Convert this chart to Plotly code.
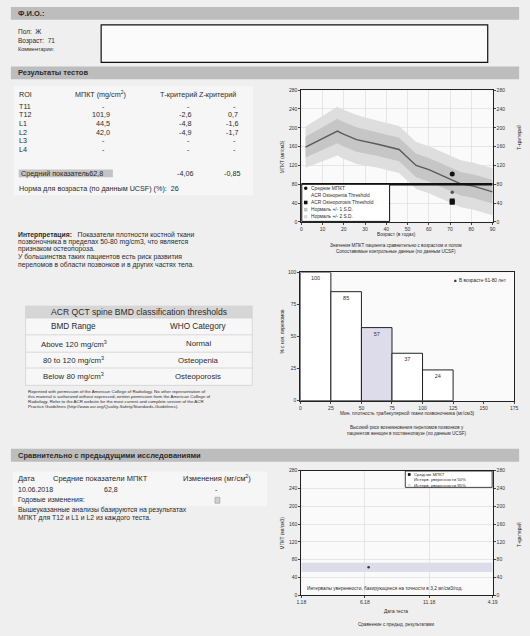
import plotly.graph_objects as go

W, H = 530, 636
FONT = "Liberation Sans"
TXT = "#2b2b2b"

# ---------------- data ----------------
roi = ["T11", "T12", "L1", "L2", "L3", "L4"]
roi_bmd = [None, 101.9, 44.5, 42.0, None, None]
roi_t = [None, -2.6, -4.8, -4.9, None, None]
roi_z = [None, 0.7, -1.6, -1.7, None, None]
mean_bmd = 62.8
mean_t = -4.06
mean_z = -0.85
age_norm_pct = 26
patient_age = 71

ref_age = [2, 17, 19, 26, 36, 41, 46, 50, 54, 60, 66, 71, 75, 81, 90]
ref_mean = [159, 193, 188, 175, 165, 159, 154, 137, 120, 111, 99, 89, 81, 76, 64]
ref_sd = [22, 26, 26, 26, 25, 25, 25, 25, 25, 25, 25, 25, 25, 25, 25]
osteoporosis_threshold = 80

hist_left = [0, 25, 50, 75, 100]
hist_pct = [100, 85, 57, 37, 24]
hist_patient_bin = 2

exam_dates = ["2018-06-10"]
exam_bmd = [62.8]
ci95_half = 10.3
trend_span = ["2018-01-01", "2019-04-01"]

acr_rows = [("Above 120 mg/cm<sup>3</sup>", "Normal"),
            ("80 to 120 mg/cm<sup>3</sup>", "Osteopenia"),
            ("Below 80 mg/cm<sup>3</sup>", "Osteoporosis")]


def fmt(v):
    return "-" if v is None else ("%.1f" % v).replace(".", ",")


def X(px):
    return px / W


def Y(py):
    return 1 - py / H


ann = []
shapes = []


def txt(x, y, s, size=7, anchor="left", color=TXT, angle=0, bold=False):
    if bold:
        s = "<b>" + s + "</b>"
    ann.append(dict(x=X(x), y=Y(y), xref="paper", yref="paper", text=s, showarrow=False,
                    xanchor=anchor, yanchor="middle", textangle=angle, borderpad=0,
                    font=dict(size=size, color=color, family=FONT)))


def rect(x0, y0, x1, y1, fill="rgba(0,0,0,0)", line=None, lw=1, layer="below"):
    shapes.append(dict(type="rect", xref="paper", yref="paper", x0=X(x0), x1=X(x1), y0=Y(y1), y1=Y(y0),
                       fillcolor=fill, line=dict(color=line or "rgba(0,0,0,0)", width=lw if line else 0),
                       layer=layer))


def hline(x0, x1, y, color, lw=1, layer="below"):
    shapes.append(dict(type="line", xref="paper", yref="paper", x0=X(x0), x1=X(x1), y0=Y(y), y1=Y(y),
                       line=dict(color=color, width=lw), layer=layer))


def marker(x, y, kind, color, size=3.5, layer="above"):
    shapes.append(dict(type="circle" if kind == "circle" else "rect", xref="paper", yref="paper",
                       x0=X(x - size / 2), x1=X(x + size / 2), y0=Y(y + size / 2), y1=Y(y - size / 2),
                       fillcolor=color, line=dict(width=0), layer=layer))


# ---------------- page header ----------------
HDR = "#bdbdbd"
rect(6, 4, 524, 17, HDR)
txt(12, 10.5, "Ф.И.О.:", 7.5, bold=True)
txt(12, 29, "Пол:  Ж", 6.5)
txt(12, 38, "Возраст:  71", 6.5)
txt(12, 46, "Комментарии:", 5.5)
rect(98, 22, 492, 60, "#fbfbfb", "#111", 1.2)
rect(6, 64, 524, 77, HDR)
txt(12, 70.5, "Результаты тестов", 7.5, bold=True)

# ---------------- results table ----------------
rect(9, 84, 253, 194, "#f6f6f6")
ty0 = 92
txt(13, ty0, "ROI", 7.2)
txt(70, ty0, "МПКТ (mg/cm<sup>2</sup>)", 7.2)
txt(157, ty0, "Т-критерий", 7.2)
txt(197, ty0, "Z-критерий", 7.2)
row_y = [104.5, 113, 121.7, 130.3, 139, 147.5]
for name, b, t, z, yy in zip(roi, roi_bmd, roi_t, roi_z, row_y):
    txt(13, yy, name, 7.2)
    if b is not None:
        txt(108, yy, fmt(b), 7.2, "right")
        txt(191, yy, fmt(t), 7.2, "right")
        txt(239, yy, fmt(z), 7.2, "right")
    else:
        txt(100, yy, "-", 7.2, "center")
        txt(187, yy, "-", 7.2, "center")
        txt(234, yy, "-", 7.2, "center")
rect(14, 168, 110, 176, "#c4c4c4")
txt(15, 172, "Средний показатель" + fmt(mean_bmd), 7.2)
txt(193, 172, ("%.2f" % mean_t).replace(".", ","), 7.2, "right")
txt(241, 172, ("%.2f" % mean_z).replace(".", ","), 7.2, "right")
txt(13, 187, "Норма для возраста (по данным UCSF) (%):  " + str(age_norm_pct), 7.2)

interp = ["<b>Интерпретация:</b>   Показатели плотности костной ткани",
          "позвоночника в пределах 50-80 mg/cm3, что является",
          "признаком остеопороза.",
          "У большинства таких пациентов есть риск развития",
          "переломов в области позвонков и в других частях тела."]
for i, line in enumerate(interp):
    txt(12, 234 + i * 7.3 + (1.0 if i >= 3 else 0), line, 6.8)

# ---------------- ACR table ----------------
rect(21, 306, 252, 386, "#f7f7f7", "#d0d0d0", 0.8)
rect(21, 306, 252, 318, "#d6d6d6")
txt(136.5, 312.3, "ACR QCT spine BMD classification thresholds", 8.6, "center")
for yy in [318, 335, 352.5, 368.5]:
    hline(21, 252, yy, "#d0d0d0", 0.8)
txt(70, 327, "BMD Range", 8.2, "center")
txt(197, 327, "WHO Category", 8.2, "center")
for i, (a, b) in enumerate(acr_rows):
    yy = [344, 360.5, 377][i]
    txt(70, yy, a, 7.8, "center")
    txt(197, yy, b, 7.8, "center")
reprint = ["Reprinted with permission of the American College of Radiology. No other representation of",
           "this material is authorized without expressed, written permission from the American College of",
           "Radiology. Refer to the ACR website for the most current and complete version of the ACR",
           "Practice Guidelines (http://www.acr.org/Quality-Safety/Standards-Guidelines)."]
for i, line in enumerate(reprint):
    txt(22, 392 + i * 5, line, 4.4)

# ---------------- comparison section ----------------
rect(6, 450, 524, 463, HDR)
txt(12, 456.5, "Сравнительно с предыдущими исследованиями", 7.5, bold=True)
rect(8, 473, 267, 508, "#f6f6f6")
txt(12, 480, "Дата", 7.5)
txt(48, 480, "Средние показатели МПКТ", 7.5)
txt(180, 480, "Изменения (мг/см<sup>2</sup>)", 7.5)
txt(12, 491.5, "10.06.2018", 7)
txt(100, 491.5, fmt(mean_bmd), 7)
txt(216, 491.5, "-", 7, "center")
txt(12, 501.5, "Годовые изменения:", 7)
rect(214, 499, 219, 505, "#cfcfcf", "#888", 0.5)
txt(12, 512, "Вышеуказанные анализы базируются на результатах", 6.8)
txt(12, 519.5, "МПКТ для Т12 и L1 и L2 из каждого теста.", 6.8)

# ---------------- chart domains ----------------
c1x, c1y = [X(302), X(497)], [Y(221), Y(88)]
c2x, c2y = [X(301), X(519)], [Y(401.5), Y(272)]
c3x, c3y = [X(302), X(497)], [Y(598), Y(472)]

fig = go.Figure()

# chart 1: reference curve
lo2 = [m - 2 * s for m, s in zip(ref_mean, ref_sd)]
hi2 = [m + 2 * s for m, s in zip(ref_mean, ref_sd)]
lo1 = [m - s for m, s in zip(ref_mean, ref_sd)]
hi1 = [m + s for m, s in zip(ref_mean, ref_sd)]
fig.add_trace(go.Scatter(x=ref_age, y=lo2, mode="lines", line=dict(width=0), xaxis="x", yaxis="y", hoverinfo="skip"))
fig.add_trace(go.Scatter(x=ref_age, y=hi2, mode="lines", line=dict(width=0), fill="tonexty", fillcolor="#dedede",
                         xaxis="x", yaxis="y", hoverinfo="skip"))
fig.add_trace(go.Scatter(x=ref_age, y=lo1, mode="lines", line=dict(width=0), xaxis="x", yaxis="y", hoverinfo="skip"))
fig.add_trace(go.Scatter(x=ref_age, y=hi1, mode="lines", line=dict(width=0), fill="tonexty", fillcolor="#c6c6c6",
                         xaxis="x", yaxis="y", hoverinfo="skip"))
fig.add_trace(go.Scatter(x=ref_age, y=ref_mean, mode="lines", line=dict(color="#5a5a5a", width=1.4),
                         xaxis="x", yaxis="y"))
fig.add_trace(go.Scatter(x=[0, 90], y=[osteoporosis_threshold] * 2, mode="lines", line=dict(color="#111", width=2.6),
                         xaxis="x", yaxis="y"))
pts = [(b, "circle" if r == "T12" else "square") for r, b in zip(roi, roi_bmd) if b is not None]
fig.add_trace(go.Scatter(x=[patient_age] * len(pts), y=[p[0] for p in pts], mode="markers",
                         marker=dict(color="#111", size=5, symbol=[p[1] for p in pts]), xaxis="x", yaxis="y"))
fig.add_trace(go.Scatter(x=[patient_age], y=[mean_bmd], mode="markers", marker=dict(color="#555", size=3.5),
                         xaxis="x", yaxis="y"))
fig.add_trace(go.Scatter(x=[patient_age], y=[mean_bmd], mode="markers", marker=dict(opacity=0),
                         xaxis="x", yaxis="y4", hoverinfo="skip"))

# chart 1 legend (manual)
rect(302.5, 183, 392, 220.5, "#ffffff", "#111", 1, layer="above")
leg1 = [("circle", "#111", "Средние МПКТ"), (None, None, "ACR Osteopenia Threshold"),
        ("rect", "#111", "ACR Osteoporosis Threshold"), ("rect", "#c6c6c6", "Нормаль +/- 1 S.D."),
        ("rect", "#dedede", "Нормаль +/- 2 S.D.")]
for i, (k, c, s) in enumerate(leg1):
    yy = 187 + i * 7.2
    if k:
        marker(306.5, yy, k, c, 3.6)
    txt(311, yy, s, 4.8)

# chart 2: histogram
fig.add_trace(go.Bar(x=[l + 12.5 for l in hist_left], y=hist_pct, width=25,
                     marker=dict(color=["#dcdcea" if i == hist_patient_bin else "#ffffff" for i in range(len(hist_pct))],
                                 line=dict(color="#222", width=1)),
                     text=[str(v) for v in hist_pct], textposition="inside", insidetextanchor="end",
                     textfont=dict(size=5.5, color="#333", family=FONT), xaxis="x2", yaxis="y2"))
txt(462, 280.5, "В возрасте 61-80 лет", 4.8)
marker(459, 280.5, "rect", "#333", 2.2)

# chart 3: trend
fig.add_trace(go.Scatter(x=trend_span, y=[exam_bmd[0] - ci95_half] * 2, mode="lines", line=dict(width=0),
                         xaxis="x3", yaxis="y3", hoverinfo="skip"))
fig.add_trace(go.Scatter(x=trend_span, y=[exam_bmd[0] + ci95_half] * 2, mode="lines", line=dict(width=0),
                         fill="tonexty", fillcolor="#dcdcea", xaxis="x3", yaxis="y3", hoverinfo="skip"))
fig.add_trace(go.Scatter(x=exam_dates, y=exam_bmd, mode="markers", marker=dict(color="#333", size=2.5),
                         xaxis="x3", yaxis="y3"))
fig.add_trace(go.Scatter(x=exam_dates, y=exam_bmd, mode="markers", marker=dict(opacity=0),
                         xaxis="x3", yaxis="y5", hoverinfo="skip"))
rect(408, 472.5, 496.5, 489, "#ffffff", "#111", 0.8, layer="above")
leg3 = [("rect", "#111", "Средние МПКТ"), (None, None, "Интерв. уверенности 50%"),
        ("rect", "#dcdcea", "Интерв. уверенности 95%")]
for i, (k, c, s) in enumerate(leg3):
    yy = 476 + i * 5.5
    if k:
        marker(412, yy, k, c, 2.8)
    txt(416, yy, s, 4.3)
txt(307, 591.5, "Интервалы уверенности, базирующиеся на точности в 3,2 мг/см3/год.", 4.8)

# axis titles & captions
txt(283, 155, "МПКТ (мг/см3)", 4.8, "center", angle=-90)
txt(524, 136, "Т-критерий", 4.8, "center", angle=-90)
txt(399, 233.5, "Возраст (в годах)", 4.8, "center")
txt(399, 244.5, "Значения МПКТ пациента сравнительно с возрастом и полом", 4.6, "center")
txt(399, 250.5, "Сопоставимые контрольные данные (по данным UCSF)", 4.6, "center")
txt(283, 332, "% с кол. переломов", 4.8, "center", angle=-90)
txt(410, 414, "Мин. плотность трабекулярной ткани позвоночника (мг/см3)", 4.8, "center")
txt(410, 428.5, "Высокий риск возникновения переломов позвонков у", 4.6, "center")
txt(410, 434.5, "пациентов женщин в постменопаузе (по данным UCSF)", 4.6, "center")
txt(283, 535, "МПКТ (мг/см3)", 4.8, "center", angle=-90)
txt(524, 537, "Т-критерий", 4.8, "center", angle=-90)
txt(399, 614.5, "Дата теста", 4.8, "center")
txt(399, 627, "Сравнение с предыд. результатами", 4.6, "center")

tickf = dict(size=5, color="#333", family=FONT)
ax_common = dict(showline=True, linecolor="#222", linewidth=1, mirror=True, ticks="outside", ticklen=2,
                 tickcolor="#444", tickfont=tickf, zeroline=False, gridcolor="#d8d8d8", gridwidth=0.6)

fig.update_layout(
    width=W, height=H, margin=dict(l=0, r=0, t=0, b=0), showlegend=False, hovermode=False,
    paper_bgcolor="#efefef", plot_bgcolor="#fafafa", bargap=0,
    font=dict(family=FONT, color=TXT),
    xaxis=dict(domain=c1x, anchor="y", range=[0, 90], dtick=10, **ax_common),
    yaxis=dict(domain=c1y, anchor="x", range=[0, 280], dtick=40, **ax_common),
    yaxis4=dict(overlaying="y", anchor="x", side="right", range=[0, 280], dtick=40, showgrid=False,
                ticks="outside", ticklen=2, tickcolor="#444", tickfont=tickf, zeroline=False),
    xaxis2=dict(domain=c2x, anchor="y2", range=[0, 175], dtick=25, **{**ax_common, "showgrid": False}),
    yaxis2=dict(domain=c2y, anchor="x2", range=[0, 100], dtick=25, **{**ax_common, "showgrid": False}),
    xaxis3=dict(domain=c3x, anchor="y3", type="date", range=trend_span, tick0="2018-01-01", dtick="M5",
                tickformat="%-m.%y", **ax_common),
    yaxis3=dict(domain=c3y, anchor="x3", range=[0, 280], dtick=40, **ax_common),
    yaxis5=dict(overlaying="y3", anchor="x3", side="right", range=[0, 280], dtick=40, showgrid=False,
                ticks="outside", ticklen=2, tickcolor="#444", tickfont=tickf, zeroline=False),
    annotations=ann, shapes=shapes,
)

fig.write_html("out.html", config={"displayModeBar": False, "staticPlot": True},
               post_script="document.body.style.margin='0';document.body.style.background='#efefef';")
